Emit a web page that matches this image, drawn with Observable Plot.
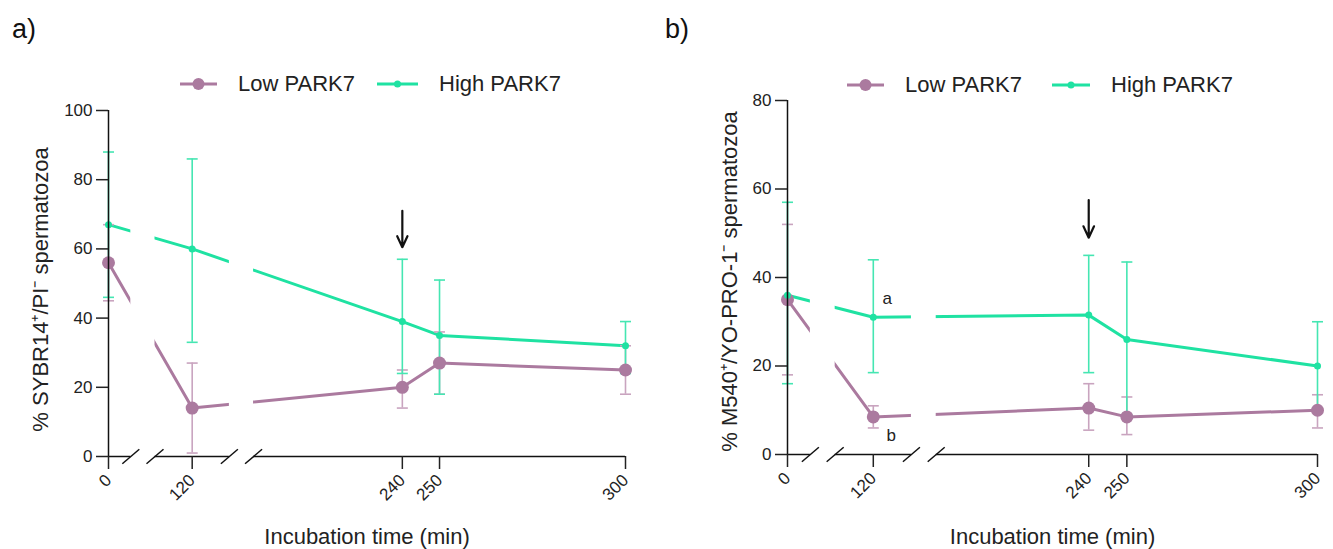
<!DOCTYPE html>
<html>
<head>
<meta charset="utf-8">
<script src="https://cdn.jsdelivr.net/npm/d3@7"></script>
<script src="https://cdn.jsdelivr.net/npm/@observablehq/plot@0.6"></script>
<style>
  body { margin: 0; background: #fff; font-family: "Liberation Sans", Arial, sans-serif; }
  #fig { position: relative; width: 1333px; height: 549px; overflow: hidden; background: #fff; }
  .panel { position: absolute; top: 0; }
  .tag { position: absolute; font-size: 27px; color: #111; line-height: 1; }
  .legend { position: absolute; display: flex; align-items: center; font-size: 22px; color: #222; white-space: nowrap; line-height: 1; }
  .legend svg { margin-right: 21px; }
</style>
</head>
<body>
<div id="fig"></div>
<script>
// Sampling times (min) and groups
const times = [0, 120, 240, 250, 300];
const groups = ["Low PARK7", "High PARK7"];

// a) % SYBR14+/PI− spermatozoa: means and error limits
const viableLow    = [56, 14, 20, 27, 25];
const viableLowLo  = [45, 1, 14, 18, 18];
const viableLowHi  = [67, 27, 25, 36, 32];
const viableHigh   = [67, 60, 39, 35, 32];
const viableHighLo = [46, 33, 24, 18, 24];
const viableHighHi = [88, 86, 57, 51, 39];

// b) % M540+/YO-PRO-1− spermatozoa: means and error limits
const m540Low    = [35, 8.5, 10.5, 8.5, 10];
const m540LowLo  = [18, 6, 5.5, 4.5, 6];
const m540LowHi  = [52, 11, 16, 13, 13.5];
const m540High   = [36, 31, 31.5, 26, 20];
const m540HighLo = [16, 18.5, 18.5, 9, 10];
const m540HighHi = [57, 44, 45, 43.5, 30];

// Arrow at 240 min (start and end values) and significance letters at 120 min
const arrowTime = 240;
const arrowA = [71, 60.5];
const arrowB = [57.5, 49];
const lettersB = ["a", "b"];

// Broken time axis: shown segments (min) and the gap between them
const xSegments = [[0, 6], [110, 130], [200, 300]];
const xGap = 6.5;

const LOW = "#ab7a9f";
const LOW_ERR = "#c9a4bf";
const HIGH = "#1fe2a2";
const HIGH_ERR = "#45e6b2";
const FONT = "'Liberation Sans', Arial, sans-serif";

// position of a time value along the broken axis
function pos(t) {
  let offset = 0;
  for (const [a, b] of xSegments) {
    if (t <= b) return offset + Math.max(0, t - a);
    offset += b - a + xGap;
  }
  return offset;
}
const segRows = xSegments.map(([a, b]) => ({x1: pos(a), x2: pos(b)}));
const gapRows = xSegments.slice(1).map((s, i) => ({x1: pos(xSegments[i][1]), x2: pos(s[0])}));
const breakMarks = gapRows.flatMap(g => [g.x1, g.x2]);
const tickLabel = new Map(times.map(t => [pos(t), String(t)]));

// custom symbols: axis break slash and error-bar cap
const slash = {draw(ctx, size) { const r = Math.sqrt(size / Math.PI); ctx.moveTo(-r, r * 0.85); ctx.lineTo(r, -r * 0.85); }};
const cap = {draw(ctx, size) { const r = Math.sqrt(size / Math.PI); ctx.moveTo(-r, 0); ctx.lineTo(r, 0); }};

function series(vals, lo, hi) {
  return times.map((t, i) => ({x: pos(t), y: vals[i], lo: lo[i], hi: hi[i]}));
}

function panel(o) {
  const low = series(o.low, o.lowLo, o.lowHi);
  const high = series(o.high, o.highLo, o.highHi);
  const errMarks = (rows, color, w) => [
    Plot.ruleX(rows, {x: "x", y1: "lo", y2: "hi", stroke: color, strokeWidth: w}),
    Plot.dot(rows, {x: "x", y: "lo", symbol: cap, r: 5.5, stroke: color, strokeWidth: w, fill: "none"}),
    Plot.dot(rows, {x: "x", y: "hi", symbol: cap, r: 5.5, stroke: color, strokeWidth: w, fill: "none"})
  ];
  const marks = [
    Plot.line(low, {x: "x", y: "y", stroke: LOW, strokeWidth: 3}),
    Plot.line(high, {x: "x", y: "y", stroke: HIGH, strokeWidth: 3}),
    Plot.rect(gapRows, {x1: "x1", x2: "x2", y1: 0, y2: o.yMax, fill: "white"}),
    ...errMarks(low, LOW_ERR, 1.6),
    ...errMarks(high, HIGH_ERR, 1.6),
    Plot.dot(low, {x: "x", y: "y", r: 6.5, fill: LOW}),
    Plot.dot(high, {x: "x", y: "y", r: 3.5, fill: HIGH}),
    Plot.ruleY(segRows, {x1: "x1", x2: "x2", y: 0, stroke: "#111", strokeWidth: 1.5}),
    Plot.ruleX([0], {y1: 0, y2: o.yMax, stroke: "#111", strokeWidth: 1.5}),
    Plot.axisY({ticks: o.yTicks, tickSize: 12, tickPadding: 4, fontSize: 17, label: null, strokeWidth: 1.5}),
    Plot.axisX({ticks: times.map(pos), tickFormat: p => tickLabel.get(p), tickSize: 13, tickPadding: 8,
      tickRotate: -45, fontSize: 17, label: null, strokeWidth: 1.5}),
    Plot.dot(breakMarks, {x: d => d, y: 0, symbol: slash, r: 8.5, stroke: "#111", strokeWidth: 1.5, fill: "none"}),
    Plot.arrow([o.arrow], {x1: pos(arrowTime), x2: pos(arrowTime), y1: d => d[0], y2: d => d[1],
      stroke: "#111", strokeWidth: 2.2, headLength: 9, headAngle: 50}),
    Plot.text([o.yTitle], {frameAnchor: "left", textAnchor: "middle", lineAnchor: "middle", rotate: -90,
      dx: o.titleDx, dy: o.titleDy, fontSize: 22, fill: "#222"}),
    Plot.text(["Incubation time (min)"], {frameAnchor: "bottom", dy: o.xTitleDy, fontSize: 22, fill: "#222", lineAnchor: "middle"})
  ];
  if (o.letters) {
    marks.push(Plot.text([o.letters[0]], {x: pos(120), y: o.high[1], dx: 14, dy: -19, fontSize: 17, fill: "#222"}));
    marks.push(Plot.text([o.letters[1]], {x: pos(120), y: o.low[1], dx: 18, dy: 19, fontSize: 17, fill: "#222"}));
  }
  return Plot.plot({
    width: o.width, height: 549,
    marginLeft: o.ml, marginRight: o.mr, marginTop: o.mt, marginBottom: o.mb,
    x: {domain: [0, pos(300)], axis: null},
    y: {domain: [0, o.yMax], axis: null},
    style: {fontFamily: FONT, color: "#222", background: "transparent", overflow: "visible"},
    marks
  });
}

const fig = document.getElementById("fig");

function place(node, left) {
  node.classList.add("panel");
  node.style.left = left + "px";
  fig.appendChild(node);
}

place(panel({
  width: 660, ml: 108, mr: 35, mt: 110, mb: 93,
  yMax: 100, yTicks: [0, 20, 40, 60, 80, 100],
  low: viableLow, lowLo: viableLowLo, lowHi: viableLowHi,
  high: viableHigh, highLo: viableHighLo, highHi: viableHighHi,
  yTitle: "% SYBR14\u207A/PI\u207B spermatozoa", titleDx: -68, titleDy: 6, xTitleDy: 80,
  arrow: arrowA
}), 0);

place(panel({
  width: 673, ml: 127, mr: 16, mt: 100, mb: 95,
  yMax: 80, yTicks: [0, 20, 40, 60, 80],
  low: m540Low, lowLo: m540LowLo, lowHi: m540LowHi,
  high: m540High, highLo: m540HighLo, highHi: m540HighHi,
  yTitle: "% M540\u207A/YO-PRO-1\u207B spermatozoa", titleDx: -58, titleDy: 4, xTitleDy: 82,
  arrow: arrowB, letters: lettersB
}), 660);

// panel tags
[["a)", 12, 16], ["b)", 665, 16]].forEach(([t, x, y]) => {
  const d = document.createElement("div");
  d.className = "tag"; d.textContent = t;
  d.style.left = x + "px"; d.style.top = y + "px";
  fig.appendChild(d);
});

// legends
function legendItem(label, color, r, left, cy, w) {
  const d = document.createElement("div");
  d.className = "legend";
  d.style.left = left + "px";
  d.style.top = (cy - 12) + "px";
  d.style.height = "24px";
  const svg = d3.create("svg").attr("width", w).attr("height", 20);
  svg.append("line").attr("x1", 0).attr("x2", w).attr("y1", 10).attr("y2", 10)
    .attr("stroke", color).attr("stroke-width", 3);
  svg.append("circle").attr("cx", w / 2).attr("cy", 10).attr("r", r).attr("fill", color);
  d.appendChild(svg.node());
  d.appendChild(document.createTextNode(label));
  fig.appendChild(d);
}
legendItem(groups[0], LOW, 6, 180, 84, 37);
legendItem(groups[1], HIGH, 3.5, 377, 84, 41);
legendItem(groups[0], LOW, 6, 847, 85, 37);
legendItem(groups[1], HIGH, 3.5, 1052, 85, 38);
</script>
</body>
</html>
